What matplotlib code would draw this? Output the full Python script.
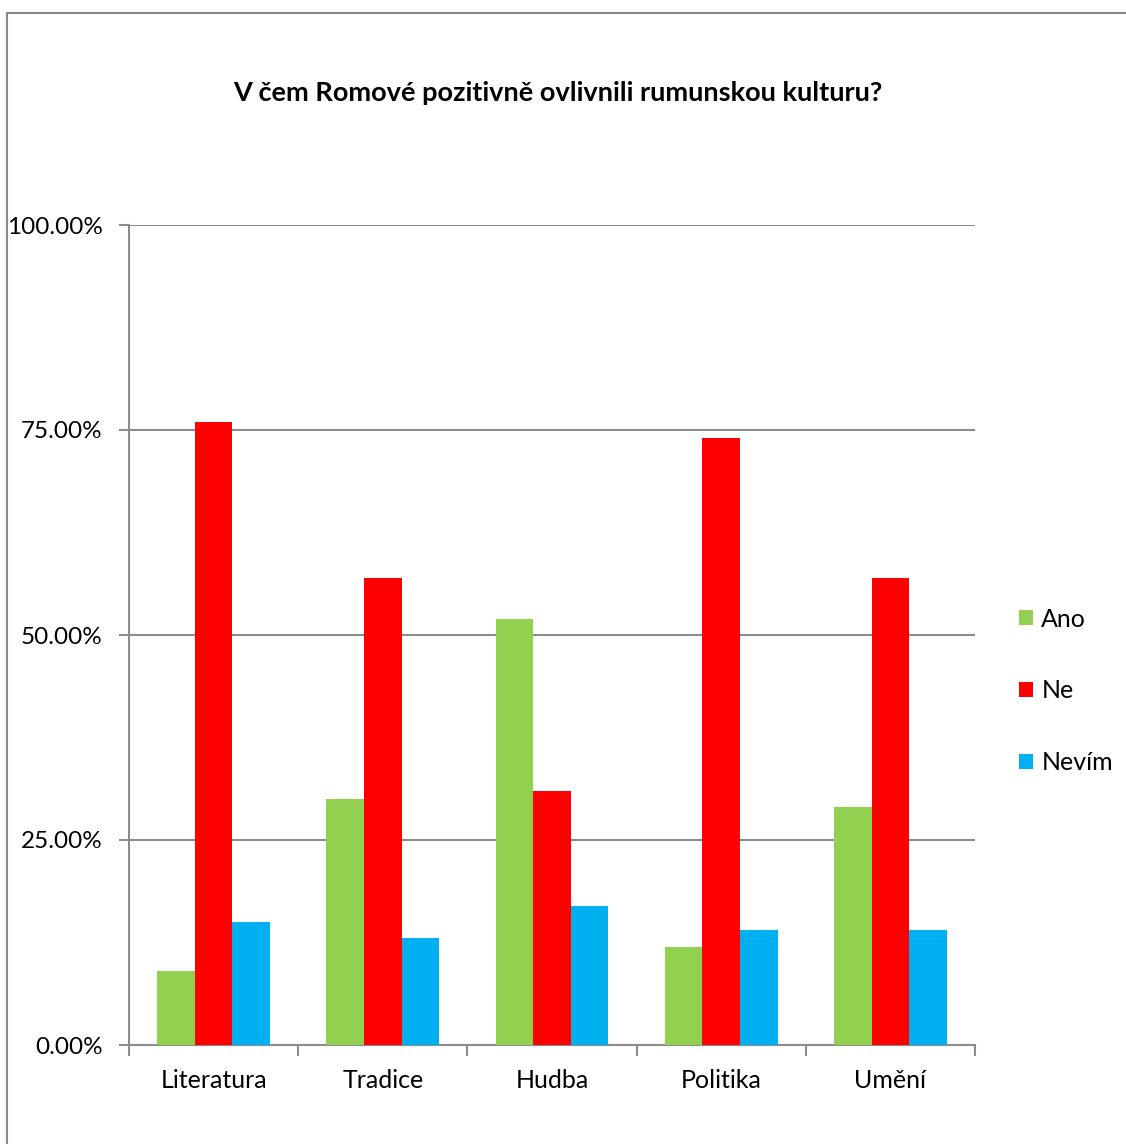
import matplotlib
matplotlib.use("Agg")
import matplotlib.pyplot as plt
import numpy as np
from matplotlib.patches import Rectangle

plt.rcParams['font.family'] = ['Lato', 'DejaVu Sans']

categories = ["Literatura", "Tradice", "Hudba", "Politika", "Umění"]
ano = [9, 30, 52, 12, 29]
ne = [76, 57, 31, 74, 57]
nevim = [15, 13, 17, 14, 14]
series_names = ["Ano", "Ne", "Nevím"]
colors = ["#92D050", "#FF0000", "#00B0F0"]
yticks = [0, 25, 50, 75, 100]
title = "V čem Romové pozitivně ovlivnili rumunskou kulturu?"

W, H = 1126, 1144
fig = plt.figure(figsize=(W / 100, H / 100), dpi=100)

# outer chart border (right and bottom edges lie outside the canvas)
fig.patches.append(Rectangle((7 / W, -0.5), 1.5, 1.5 - 13 / H, transform=fig.transFigure,
                             fill=False, edgecolor="#888888", linewidth=1.5))

left, right, top, bottom = 129, 975, 225, 1045
ax = fig.add_axes([left / W, 1 - bottom / H, (right - left) / W, (bottom - top) / H])

x = np.arange(len(categories))
bw = 1 / 4.5
for i, (vals, name, c) in enumerate(zip([ano, ne, nevim], series_names, colors)):
    ax.bar(x + (i - 1) * bw, vals, width=bw, color=c, label=name, zorder=3)

ax.set_xlim(-0.5, len(categories) - 0.5)
ax.set_ylim(0, 100)
ax.set_yticks(yticks)
ax.set_yticklabels([f"{v:.2f}%" for v in yticks], fontsize=17.5)
ax.yaxis.grid(True, color="#8c8c8c", linewidth=1.5, zorder=0)
ax.set_xticks(x)
ax.set_xticklabels(categories, fontsize=18)
ax.tick_params(axis='x', length=0, pad=17)
ax.set_xticks(np.arange(-0.5, len(categories)), minor=True)
ax.tick_params(axis='x', which='minor', length=8, width=1.5, color="#8c8c8c")
ax.tick_params(axis='y', length=7, width=1.5, color="#8c8c8c", pad=12)
for s in ["top", "right"]:
    ax.spines[s].set_visible(False)
for s in ["left", "bottom"]:
    ax.spines[s].set_color("#8c8c8c")
    ax.spines[s].set_linewidth(1.5)

fig.text(558 / W, 1 - 93 / H, title, ha="center", va="center", fontsize=19.5, fontweight="bold")

leg = ax.legend(loc="center left", bbox_to_anchor=(1.04, (bottom - 691) / (bottom - top)),
                frameon=False, fontsize=18, borderaxespad=0,
                handlelength=0.55, handleheight=0.55, handletextpad=0.35, labelspacing=1.95)

fig.savefig("out.png", dpi=100)
